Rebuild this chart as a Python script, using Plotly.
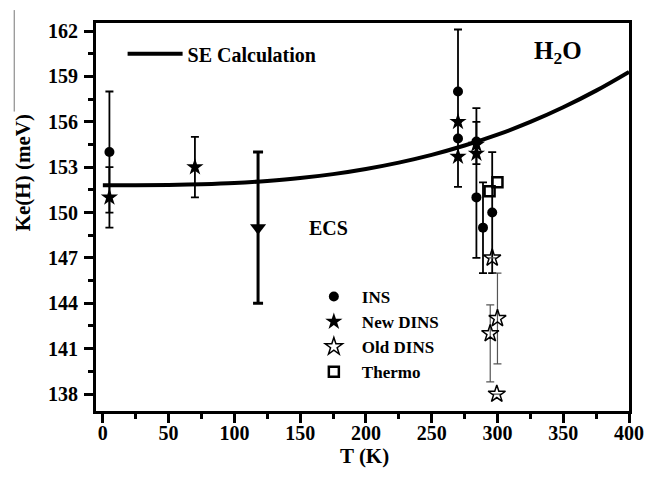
import plotly.graph_objects as go

# ---- data ----
curve_T = [0, 25, 50, 75, 100, 125, 150, 175, 200, 225, 250, 275, 300, 325, 350, 375, 400]
curve_K = [151.80, 151.80, 151.82, 151.87, 151.95, 152.09, 152.28, 152.54, 152.88,
           153.30, 153.81, 154.43, 155.15, 155.99, 156.96, 158.06, 159.30]

ins_T = [5, 270, 270, 284, 284, 289, 296]
ins_K = [154.0, 158.0, 154.9, 154.7, 151.0, 149.0, 150.0]
ins_ep = [4.0, 4.1, None, None, 5.0, 3.0, 4.0]
ins_em = [4.0, 6.3, None, None, 4.0, 3.0, 4.0]

new_T = [5, 70, 270, 270, 284, 284]
new_K = [151.0, 153.0, 156.0, 153.7, 154.5, 153.9]
new_ep = [2.0, 2.0, None, None, 2.4, None]
new_em = [2.0, 2.0, None, None, 1.3, None]

old_T = [296, 294.5, 300, 299.5]
old_K = [147.0, 142.0, 143.0, 138.0]
old_ep = [None, 1.9, 3.0, None]
old_em = [None, 3.2, 3.0, None]

thermo_T = [294, 300]
thermo_K = [151.4, 152.0]

ecs_T = [118]
ecs_K = [149.0]
ecs_err = [5.0]

x_ticks = [0, 50, 100, 150, 200, 250, 300, 350, 400]
y_ticks = [138, 141, 144, 147, 150, 153, 156, 159, 162]

FONT = "Liberation Serif"

# page is drawn with an 8px body margin; plot area in page pixels: x 96..637, y 21..411
PL, PR, PT, PB = 96, 637, 21, 411
PW, PH = PR - PL, PB - PT


def px(xp):
    return (xp - PL) / PW


def py(yp):
    return (PB - yp) / PH


fig = go.Figure()

fig.add_trace(go.Scatter(
    x=curve_T, y=curve_K, mode="lines", name="SE Calculation",
    line=dict(color="black", width=4, shape="spline"),
    legend="legend"))

fig.add_trace(go.Scatter(
    x=ecs_T, y=ecs_K, mode="markers", name="ECS", showlegend=False,
    marker=dict(symbol="triangle-down", size=14, color="black"),
    error_y=dict(type="data", array=ecs_err, color="black", thickness=3, width=5)))

fig.add_trace(go.Scatter(
    x=ins_T, y=ins_K, mode="markers", name="INS",
    marker=dict(symbol="circle", size=10, color="black"),
    error_y=dict(type="data", array=ins_ep, arrayminus=ins_em, symmetric=False,
                 color="black", thickness=1.8, width=4),
    legend="legend2"))

fig.add_trace(go.Scatter(
    x=new_T, y=new_K, mode="markers", name="New DINS",
    marker=dict(symbol="star", size=13, color="black"),
    error_y=dict(type="data", array=new_ep, arrayminus=new_em, symmetric=False,
                 color="black", thickness=1.8, width=4),
    legend="legend2"))

fig.add_trace(go.Scatter(
    x=old_T, y=old_K, mode="markers", name="Old DINS",
    marker=dict(symbol="star-open", size=13, color="black", line=dict(width=1.5)),
    error_y=dict(type="data", array=old_ep, arrayminus=old_em, symmetric=False,
                 color="#555555", thickness=1.2, width=4),
    legend="legend2"))

fig.add_trace(go.Scatter(
    x=thermo_T, y=thermo_K, mode="markers", name="Thermo",
    marker=dict(symbol="square-open", size=10, color="black", line=dict(width=2.5)),
    legend="legend2"))

axis_common = dict(showline=True, linecolor="black", linewidth=3, mirror=True,
                   ticks="outside", ticklen=9, tickwidth=2.5, tickcolor="black",
                   showgrid=False, zeroline=False,
                   tickfont=dict(family=FONT, size=20, color="black", weight="bold"))

fig.update_xaxes(range=[-5.2, 400], tickvals=x_ticks, ticklabelstandoff=-7,
                 minor=dict(dtick=25, tick0=0, ticks="outside", ticklen=5,
                            tickwidth=2.5, tickcolor="black"),
                 **axis_common)
fig.update_yaxes(range=[136.88, 162.53], tickvals=y_ticks, ticklabelstandoff=2,
                 minor=dict(dtick=1.5, tick0=138, ticks="outside", ticklen=5,
                            tickwidth=2.5, tickcolor="black"),
                 **axis_common)

fig.update_layout(
    width=648, height=469,
    margin=dict(l=PL - 8, r=648 - (PR - 8), t=PT - 8, b=469 - (PB - 8)),
    paper_bgcolor="white", plot_bgcolor="white",
    legend=dict(x=px(123), y=py(52), xanchor="left", yanchor="middle",
                itemwidth=55,
                bgcolor="rgba(0,0,0,0)", borderwidth=0,
                font=dict(family=FONT, size=20, color="black", weight="bold")),
    legend2=dict(x=px(309), y=py(334), xanchor="left", yanchor="middle",
                 itemwidth=46,
                 bgcolor="rgba(0,0,0,0)", borderwidth=0,
                 font=dict(family=FONT, size=17, color="black", weight="bold")),
    annotations=[
        dict(text="ECS", x=171.5, y=149.0, xref="x", yref="y", showarrow=False,
             xanchor="center", yanchor="middle",
             font=dict(family=FONT, size=20, color="black", weight="bold")),
        dict(text="H<sub>2</sub>O", x=px(565), y=py(51), xref="paper", yref="paper",
             showarrow=False, xanchor="center", yanchor="middle",
             font=dict(family=FONT, size=25, color="black", weight="bold")),
        dict(text="T (K)", x=px(369), y=py(456), xref="paper", yref="paper",
             showarrow=False, xanchor="center", yanchor="middle",
             font=dict(family=FONT, size=21, color="black", weight="bold")),
        dict(text="Ke(H) (meV)", x=px(22), y=py(172),
             xref="paper", yref="paper", showarrow=False, textangle=-90,
             xanchor="center", yanchor="middle",
             font=dict(family=FONT, size=21, color="black", weight="bold")),
    ],
    shapes=[dict(type="line", xref="paper", yref="paper",
                 x0=px(13), x1=px(13), y0=py(8), y1=py(110),
                 line=dict(color="#777777", width=1))],
)

fig.write_html("out.html")
